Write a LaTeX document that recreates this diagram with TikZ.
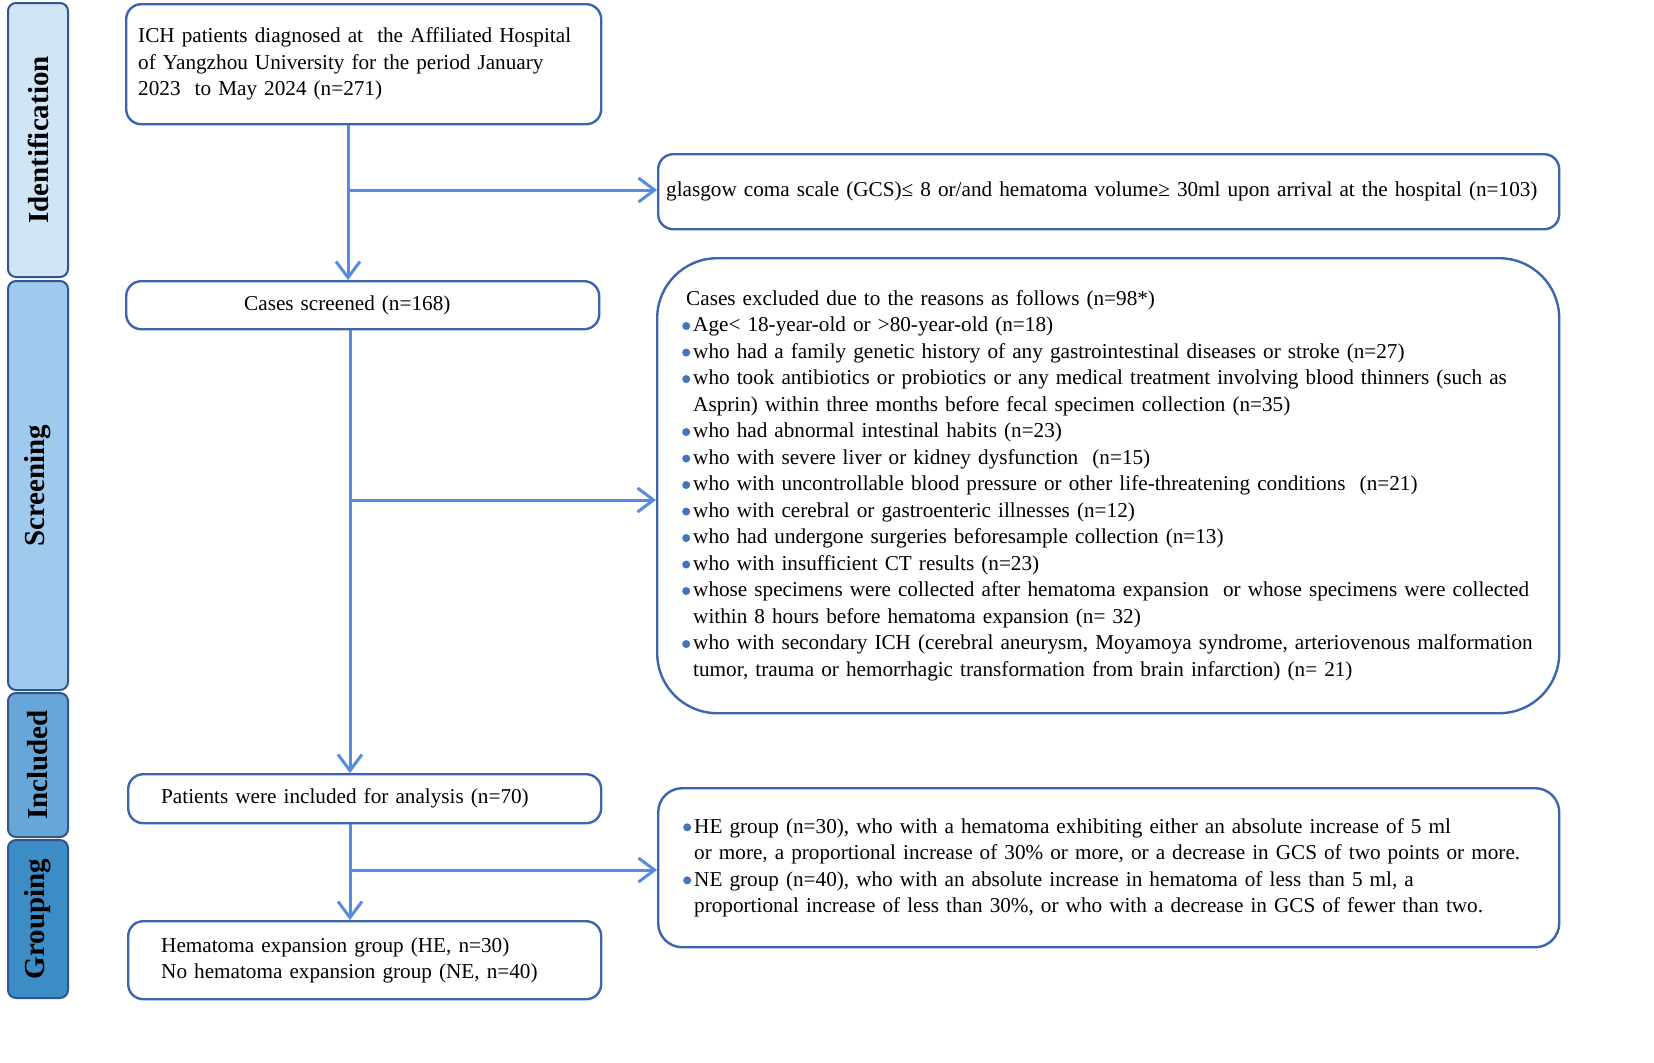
\documentclass[tikz,border=0pt]{standalone}
\usepackage{fontspec}
\setmainfont{Liberation Serif}
\usepackage{tikz}
\usetikzlibrary{arrows.meta}
\hyphenpenalty=10000
\definecolor{stageA}{RGB}{208,229,247}
\definecolor{stageB}{RGB}{160,202,237}
\definecolor{stageC}{RGB}{104,166,215}
\definecolor{stageD}{RGB}{60,140,198}
\definecolor{stageline}{RGB}{50,85,145}
\definecolor{boxline}{RGB}{60,100,175}
\definecolor{arrowblue}{RGB}{85,140,225}
\definecolor{dotblue}{RGB}{70,115,190}
\newcommand{\bul}{\makebox[5.5pt][l]{\tikz[baseline=-0.6ex]\fill[dotblue] (0,0) circle (2pt);}}
\newcommand{\cont}{\hspace*{5.5pt}}

\begin{document}
\begin{tikzpicture}[x=0.5pt,y=-0.5pt,
	stagebar/.style={draw=stageline,line width=1pt,rounded corners=4pt,rotate=90,minimum height=30pt,inner sep=0pt,font=\fontsize{14.5}{16}\selectfont\bfseries},
	flowbox/.style={draw=boxline,line width=1.2pt,rounded corners=7.5pt,fill=white,anchor=north west,inner ysep=0pt,align=left,font=\fontsize{10.6}{13.25}\selectfont},
	flowarrow/.style={draw=arrowblue,line width=1.5pt,-{Straight Barb[length=8pt,width=12pt]}}]
\useasboundingbox (0,0) rectangle (1654,1062);
% stages on the left
\node[stagebar,fill=stageA,minimum width=137pt] (ident) at (38,140) {Identification};
\node[stagebar,fill=stageB,minimum width=204.5pt] (screening) at (38,485.5) {Screening};
\node[stagebar,fill=stageC,minimum width=72pt] (included) at (38,765) {Included};
\node[stagebar,fill=stageD,minimum width=79pt] (grouping) at (38,919) {Grouping};
% main column
\node[flowbox,minimum width=237.5pt,minimum height=60pt,inner xsep=6pt,text width=225.5pt] (ich) at (125,3) {ICH patients diagnosed at \ the Affiliated Hospital\\ of Yangzhou University for the period January\\ 2023 \ to May 2024 (n=271)};
\node[flowbox,minimum width=236.5pt,minimum height=24pt,inner xsep=6pt,text width=224.5pt] (screen) at (125,280) {\hspace*{53pt}Cases screened (n=168)};
\node[flowbox,minimum width=236.5pt,minimum height=24.5pt,inner xsep=16.5pt,text width=203.5pt] (analysis) at (127,773) {Patients were included for analysis (n=70)};
\node[flowbox,minimum width=236.5pt,minimum height=39pt,inner xsep=16.5pt,text width=203.5pt] (groups) at (127,920) {Hematoma expansion group (HE, n=30)\\ No hematoma expansion group (NE, n=40)};
% side boxes
\node[flowbox,minimum width=450.5pt,minimum height=37.5pt,inner xsep=4pt,text width=442.5pt] (gcs) at (657,153) {glasgow coma scale (GCS)≤ 8 or/and hematoma volume≥ 30ml upon arrival at the hospital (n=103)};
\node[flowbox,rounded corners=30pt,minimum width=451pt,minimum height=227.5pt,inner xsep=12.5pt,text width=426pt] (excl) at (656,257) {\hspace*{2pt}Cases excluded due to the reasons as follows (n=98*)\\
\bul Age< 18-year-old or >80-year-old (n=18)\\
\bul who had a family genetic history of any gastrointestinal diseases or stroke (n=27)\\
\bul who took antibiotics or probiotics or any medical treatment involving blood thinners (such as\\
\cont Asprin) within three months before fecal specimen collection (n=35)\\
\bul who had abnormal intestinal habits (n=23)\\
\bul who with severe liver or kidney dysfunction \ (n=15)\\
\bul who with uncontrollable blood pressure or other life-threatening conditions \ (n=21)\\
\bul who with cerebral or gastroenteric illnesses (n=12)\\
\bul who had undergone surgeries beforesample collection (n=13)\\
\bul who with insufficient CT results (n=23)\\
\bul whose specimens were collected after hematoma expansion \ or whose specimens were collected\\
\cont within 8 hours before hematoma expansion (n= 32)\\
\bul who with secondary ICH (cerebral aneurysm, Moyamoya syndrome, arteriovenous malformation\\
\cont tumor, trauma or hemorrhagic transformation from brain infarction) (n= 21)};
\node[flowbox,rounded corners=12pt,minimum width=450.5pt,minimum height=79.5pt,inner xsep=12.5pt,text width=425.5pt] (hene) at (657,787) {\bul HE group (n=30), who with a hematoma exhibiting either an absolute increase of 5 ml\\
\cont or more, a proportional increase of 30\% or more, or a decrease in GCS of two points or more.\\
\bul NE group (n=40), who with an absolute increase in hematoma of less than 5 ml, a\\
\cont proportional increase of less than 30\%, or who with a decrease in GCS of fewer than two.\\[5pt]};
% arrows
\coordinate (j1) at (348,190);
\coordinate (j2) at (350,500);
\coordinate (j3) at (350,870);
\draw[flowarrow] (ich.south -| j1) -- (screen.north -| j1);
\draw[flowarrow] (j1) -- (gcs.west |- j1);
\draw[flowarrow] (screen.south -| j2) -- (analysis.north -| j2);
\draw[flowarrow] (j2) -- (excl.west |- j2);
\draw[flowarrow] (analysis.south -| j3) -- (groups.north -| j3);
\draw[flowarrow] (j3) -- (hene.west |- j3);
\end{tikzpicture}
\end{document}
